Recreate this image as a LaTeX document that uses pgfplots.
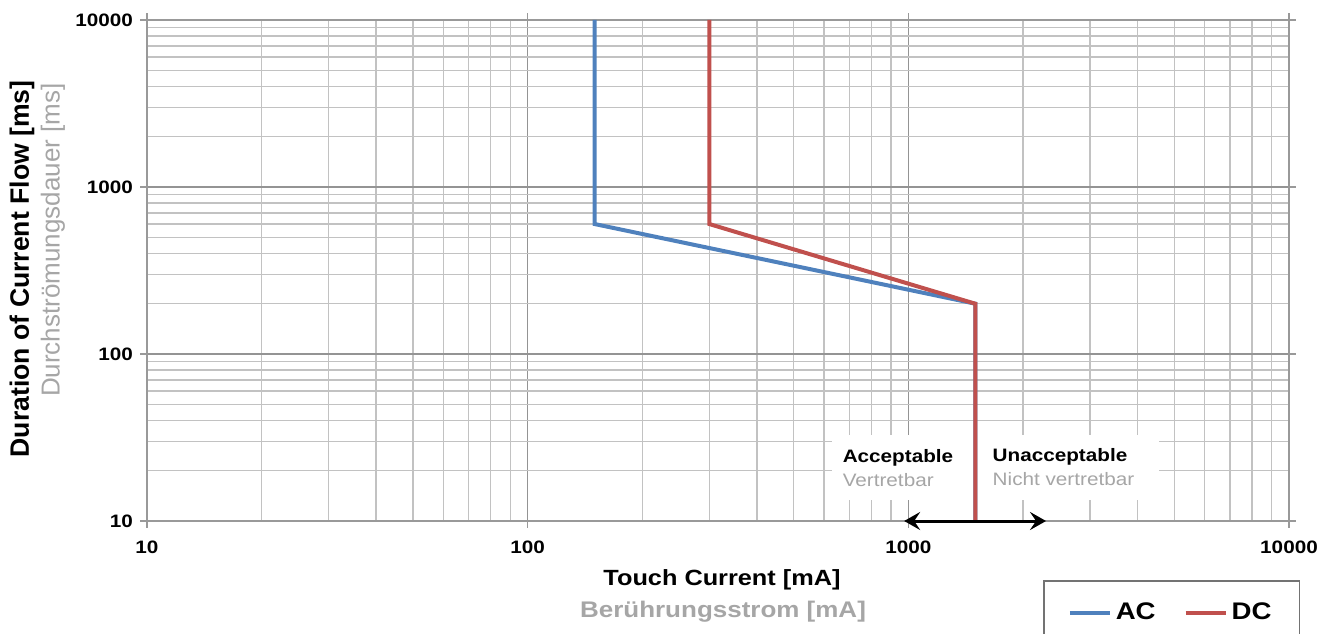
\documentclass[border=0pt]{standalone}
\usepackage{pgfplots}
\pgfplotsset{compat=1.18}
\usepackage{fontspec}
\setmainfont{Liberation Sans}[FakeStretch=1.15]
\newfontfamily\ylabfont{Liberation Sans}
\usetikzlibrary{arrows.meta}
\definecolor{acblue}{HTML}{4F81BD}
\definecolor{dcred}{HTML}{C0504D}
\definecolor{gtxt}{HTML}{A6A6A6}
\begin{document}
\begin{tikzpicture}
\begin{axis}[
  xmode=log, ymode=log, clip=false,
  scale only axis, width=571pt, height=250.5pt,
  xmin=10, xmax=10000, ymin=10, ymax=10000,
  xtick={10,100,1000,10000}, xticklabels={10,100,1000,10000},
  ytick={10,100,1000,10000}, yticklabels={10,100,1000,10000},
  minor xtick={20,30,40,50,60,70,80,90,200,300,400,500,600,700,800,900,2000,3000,4000,5000,6000,7000,8000,9000},
  minor ytick={20,30,40,50,60,70,80,90,200,300,400,500,600,700,800,900,2000,3000,4000,5000,6000,7000,8000,9000},
  grid=both,
  major grid style={draw=black!42, line width=0.8pt},
  minor grid style={draw=black!24, line width=0.7pt},
  axis line style={draw=black!40, line width=0.8pt},
  tick align=outside,
  major tick length=3.5pt, minor tick length=0pt,
  tick style={draw=black!40, line width=0.7pt},
  ticklabel style={font=\bfseries\fontsize{9}{10}\selectfont},
  xticklabel style={yshift=-3pt},
  legend columns=2,
  legend image code/.code={\draw[#1] (0pt,0pt) -- (20pt,0pt);},
  legend style={at={(0.7846,-0.1178)}, anchor=north west,
    draw=black!55, line width=0.75pt,
    font=\bfseries\fontsize{12}{14}\selectfont,
    inner xsep=12pt, inner ysep=9pt,
    /tikz/every even column/.append style={column sep=12pt}},
]
\fill[white] (axis cs:632,13.4) rectangle (axis cs:4560,32.7);
\addplot[acblue, line width=2pt] coordinates {(150,10000) (150,600) (1500,200) (1500,10)};
\addlegendentry{AC}
\addplot[dcred, line width=2pt] coordinates {(300,10000) (300,600) (1500,200) (1500,10)};
\addlegendentry{DC}
\node[anchor=west, inner sep=0pt, font=\bfseries\fontsize{9}{10}\selectfont] at (axis cs:671,23.8) {Acceptable};
\node[anchor=west, inner sep=0pt, font=\fontsize{9}{10}\selectfont, text=gtxt] at (axis cs:671,17.6) {Vertretbar};
\node[anchor=west, inner sep=0pt, font=\bfseries\fontsize{9}{10}\selectfont] at (axis cs:1662,24.3) {Unacceptable};
\node[anchor=west, inner sep=0pt, font=\fontsize{9}{10}\selectfont, text=gtxt] at (axis cs:1662,17.8) {Nicht vertretbar};
\draw[{Stealth[length=8pt,width=9pt,inset=3pt]}-{Stealth[length=8pt,width=9pt,inset=3pt]}, line width=1.5pt] (axis cs:975,10) -- (axis cs:2300,10);
\end{axis}
\node[font=\bfseries\fontsize{11}{13}\selectfont] at (287.5pt,-29.5pt) {Touch Current [mA]};
\node[font=\bfseries\fontsize{11.3}{13}\selectfont, text=gtxt] at (288pt,-45.5pt) {Berührungsstrom [mA]};
\node[rotate=90, anchor=east, inner sep=0pt, font=\ylabfont\bfseries\fontsize{13.3}{15}\selectfont] at (-62.5pt,220.5pt) {Duration of Current Flow [ms]};
\node[rotate=90, anchor=east, inner sep=0pt, font=\ylabfont\fontsize{13}{15}\selectfont, text=gtxt] at (-47pt,219pt) {Durchströmungsdauer [ms]};
\pgfresetboundingbox
\path[use as bounding box] (-73.5pt,-56pt) rectangle (588pt,260.5pt);
\end{tikzpicture}
\end{document}
